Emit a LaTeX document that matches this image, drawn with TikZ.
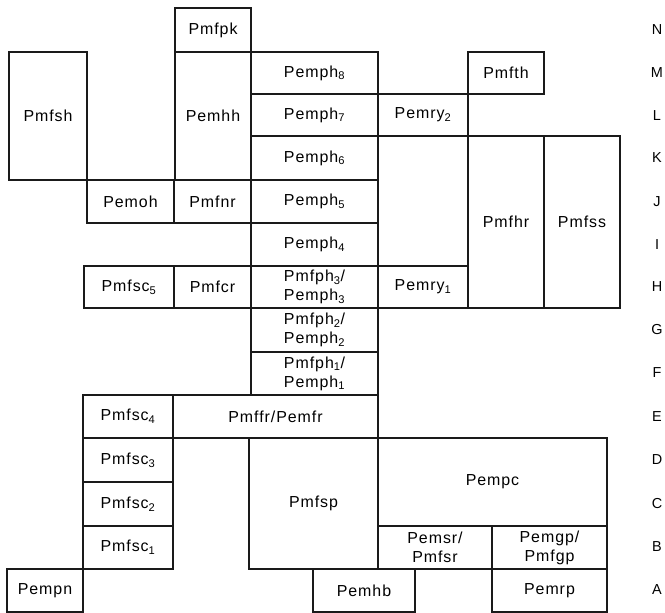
\documentclass[tikz,border=0pt]{standalone}
\usepackage{fontspec}
\setmainfont{Liberation Sans}[LetterSpace=6]
\usepackage{tikz}
\definecolor{inkgray}{HTML}{1A1A1A}

\begin{document}
\begin{tikzpicture}[x=1bp,y=-1bp,
  cell/.style={draw=inkgray,line width=1.2bp,inner sep=0pt,align=center,
    font=\fontsize{16}{19}\selectfont},
  rowlbl/.style={font=\fontsize{14.5}{16}\selectfont}]
  \useasboundingbox (0,0) rectangle (665,613);
  % box: name, left, top, right, bottom, text
  \foreach \n/\xa/\ya/\xb/\yb/\t in {
      pmfpk/175/8/251/52/{Pmfpk},
      pmfsh/9/52/87/180/{Pmfsh},
      pemhh/175/52/251/180/{Pemhh},
      pemph8/251/52/378/94/{Pemph\textsubscript{8}},
      pemph7/251/94/378/136/{Pemph\textsubscript{7}},
      pemph6/251/136/378/180/{Pemph\textsubscript{6}},
      pemph5/251/180/378/223/{Pemph\textsubscript{5}},
      pemph4/251/223/378/266/{Pemph\textsubscript{4}},
      pemph3/251/266/378/308/{Pmfph\textsubscript{3}/\\Pemph\textsubscript{3}},
      pemph2/251/308/378/352/{Pmfph\textsubscript{2}/\\Pemph\textsubscript{2}},
      pemph1/251/352/378/395/{Pmfph\textsubscript{1}/\\Pemph\textsubscript{1}},
      pmfth/468/52/544/94/{Pmfth},
      pemry2/378/94/468/136/{Pemry\textsubscript{2}},
      pemoh/87/180/174/223/{Pemoh},
      pmfnr/174/180/251/223/{Pmfnr},
      pmfsc5/84/266/174/308/{Pmfsc\textsubscript{5}},
      pmfcr/174/266/251/308/{Pmfcr},
      pemry1/378/266/468/308/{Pemry\textsubscript{1}},
      pmfhr/468/136/544/308/{Pmfhr},
      pmfss/544/136/620/308/{Pmfss},
      pmfsc4/83/395/173/438/{Pmfsc\textsubscript{4}},
      pmffr/173/395/378/438/{Pmffr/Pemfr},
      pmfsc3/83/438/173/482/{Pmfsc\textsubscript{3}},
      pmfsc2/83/482/173/526/{Pmfsc\textsubscript{2}},
      pmfsc1/83/526/173/569/{Pmfsc\textsubscript{1}},
      pmfsp/249/438/378/569/{Pmfsp},
      pempc/378/438/607/526/{Pempc},
      pemsr/378/526/492/569/{Pemsr/\\Pmfsr},
      pemgp/492/526/607/569/{Pemgp/\\Pmfgp},
      pemrp/492/569/607/612/{Pemrp},
      pemhb/313/569/415/612/{Pemhb},
      pempn/7/569/83/612/{Pempn}}
    \node[cell,minimum width={(\xb-\xa)*1bp},minimum height={(\yb-\ya)*1bp}]
      (\n) at ({(\xa+\xb)/2},{(\ya+\yb)/2}) {\t};
  % row letters
  \foreach \l/\y in {N/30,M/73,L/116,K/158,J/202,I/245,H/287,
                     G/330,F/373,E/417,D/460,C/504,B/547,A/590}
    \node[rowlbl] (row\l) at (657,\y) {\l};
\end{tikzpicture}
\end{document}
